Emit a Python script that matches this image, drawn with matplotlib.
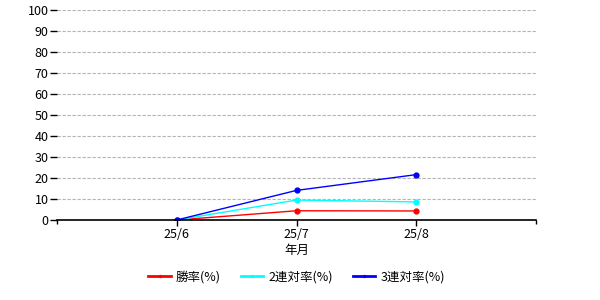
import matplotlib
matplotlib.use("Agg")
import matplotlib.pyplot as plt

plt.rcParams['font.family'] = ['Noto Sans CJK JP', 'DejaVu Sans']

months = ['25/6', '25/7', '25/8']
win_rate = [0, 4.4, 4.3]
rentai2 = [0, 9.5, 8.6]
rentai3 = [0, 14.1, 21.6]

fig = plt.figure(figsize=(6, 3), dpi=100)
ax = fig.add_axes([57/600, 80/300, 479/600, 210/300])

x = list(range(len(months)))
ax.plot(x, win_rate, color='red', marker='o', markersize=3.5, lw=1, label='勝率(%)')
ax.plot(x, rentai2, color='cyan', marker='o', markersize=3.5, lw=1, label='2連対率(%)')
ax.plot(x, rentai3, color='blue', marker='o', markersize=3.5, lw=1, label='3連対率(%)')

ax.set_xlim(-1, 3)
ax.set_ylim(0, 100)
ax.set_yticks(range(0, 101, 10))
ax.set_xticks(x)
ax.set_xticklabels(months)
ax.set_xticks([-1, 3], minor=True)
ax.tick_params(axis='x', which='minor', length=3, width=1)
ax.tick_params(axis='x', which='major', length=4, width=1, labelsize=9, pad=2)
ax.tick_params(axis='y', length=5, width=1, labelsize=9, pad=1)
ax.yaxis.grid(True, linestyle=(0, (3, 1.5)), color='#b4b4b4', lw=0.8)
ax.set_axisbelow(True)
for s in ['top', 'right', 'left']:
    ax.spines[s].set_visible(False)
ax.spines['bottom'].set_linewidth(1.2)
ax.set_xlabel('年月', fontsize=9, labelpad=2)

leg = ax.legend(loc='upper center', bbox_to_anchor=(0.5, -0.185), ncol=3, frameon=False,
                fontsize=9, markerscale=0.4, handlelength=1.8, columnspacing=1.6,
                handletextpad=0.4)
for line in leg.get_lines():
    line.set_linewidth(2)

fig.savefig('out.png')
